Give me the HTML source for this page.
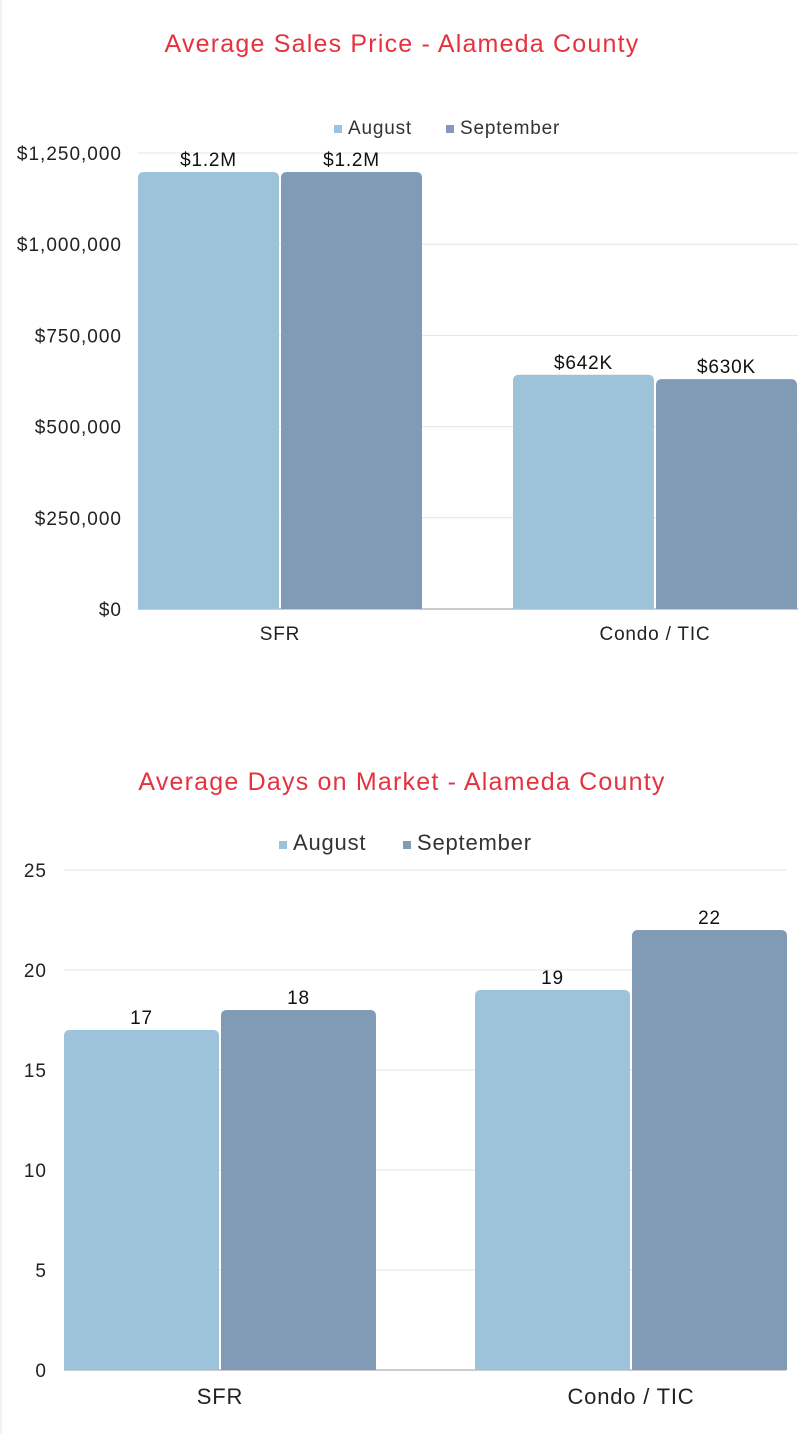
<!DOCTYPE html>
<html><head><meta charset="utf-8"><style>
body{margin:0;background:#fff;width:798px;height:1434px;overflow:hidden;font-family:"Liberation Sans",sans-serif}
svg text{font-family:"Liberation Sans",sans-serif}
</style></head><body>
<svg id="s" width="798" height="1434">
<line x1="1" y1="0" x2="1" y2="1434" stroke="#e6e6e6"/>
</svg>
<script>
const categories=["SFR","Condo / TIC"];
const series=["August","September"];
const priceAug=[1198000,642000];
const priceSep=[1198000,630000];
const priceLabels=[["$1.2M","$642K"],["$1.2M","$630K"]];
const priceTicks=[0,250000,500000,750000,1000000,1250000];
const priceTickLabels=["$0","$250,000","$500,000","$750,000","$1,000,000","$1,250,000"];
const domAug=[17,19];
const domSep=[18,22];
const domTicks=[0,5,10,15,20,25];
const colors=["#9cc3d9","#819bb7"];
const svg=document.getElementById('s');
const NS='http://www.w3.org/2000/svg';
function mk(t,a,txt){const e=document.createElementNS(NS,t);for(const k in a)e.setAttribute(k,a[k]);if(txt!=null)e.textContent=txt;svg.appendChild(e);return e;}
function chart(o){
  const y=v=>o.y0-(v/o.max)*(o.y0-o.yTop);
  let t=mk('text',{x:o.titleX,y:o.titleY,'text-anchor':'middle','font-size':25,fill:'#e5323f','letter-spacing':1.2},o.title);
  
  
  o.ticks.forEach((v,i)=>{
    if(i>0){let l=mk('line',{x1:o.x0,x2:o.x1,y1:y(v),y2:y(v),stroke:'#e4e4e4'});
    
    }
    let tl=mk('text',{x:o.tickX,y:y(v)+7,'text-anchor':'end','font-size':19,fill:'#222','letter-spacing':1},o.tickLabels[i]);
    
    
  });
  let ax=mk('line',{x1:o.x0,x2:o.x1,y1:o.y0,y2:o.y0,stroke:'#999'});
  
  
  series.forEach((s,i)=>{
    const lx=o.legX[i];
    let r=mk('rect',{x:lx,y:o.legY-9,width:8,height:8,fill:colors[i]});
    
    
    let lt=mk('text',{x:lx+14,y:o.legY,'font-size':o.legFs,fill:'#333','letter-spacing':0.8},s);
    
    
  });
  categories.forEach((c,ci)=>{
    const gx=o.x0+ci*o.step;
    [o.a,o.b].forEach((arr,si)=>{
      const bx=gx+si*(o.barW+2), by=y(arr[ci]), r=6;
      const d=`M${bx},${o.y0}V${by+r}Q${bx},${by} ${bx+r},${by}H${bx+o.barW-r}Q${bx+o.barW},${by} ${bx+o.barW},${by+r}V${o.y0}Z`;
      let p=mk('path',{d:d,fill:colors[si]});
      
      
      let vl=mk('text',{x:bx+o.barW/2,y:by-6,'text-anchor':'middle','font-size':19,fill:'#111','letter-spacing':0.8},o.labels(si,ci));
      
      
    });
    let cl=mk('text',{x:gx+o.barW+1,y:o.catY,'text-anchor':'middle','font-size':o.catFs,fill:'#222','letter-spacing':0.8},c);
    
    
  });
}
chart({prefix:'price',title:'Average Sales Price - Alameda County',titleX:402,titleY:52,x0:138,x1:798,y0:609,yTop:153,max:1250000,
  ticks:priceTicks,tickLabels:priceTickLabels,tickX:122,legX:[334,446],legY:134,legFs:19,a:priceAug,b:priceSep,step:375,barW:141,
  labels:(si,ci)=>priceLabels[si][ci],catY:640,catFs:19});
chart({prefix:'dom',title:'Average Days on Market - Alameda County',titleX:402,titleY:790,x0:64,x1:786,y0:1370,yTop:870,max:25,
  ticks:domTicks,tickLabels:domTicks.map(String),tickX:47,legX:[279,403],legY:850,legFs:22,a:domAug,b:domSep,step:411,barW:155,
  labels:(si,ci)=>String([domAug,domSep][si][ci]),catY:1404,catFs:22});
</script>
</body></html>
